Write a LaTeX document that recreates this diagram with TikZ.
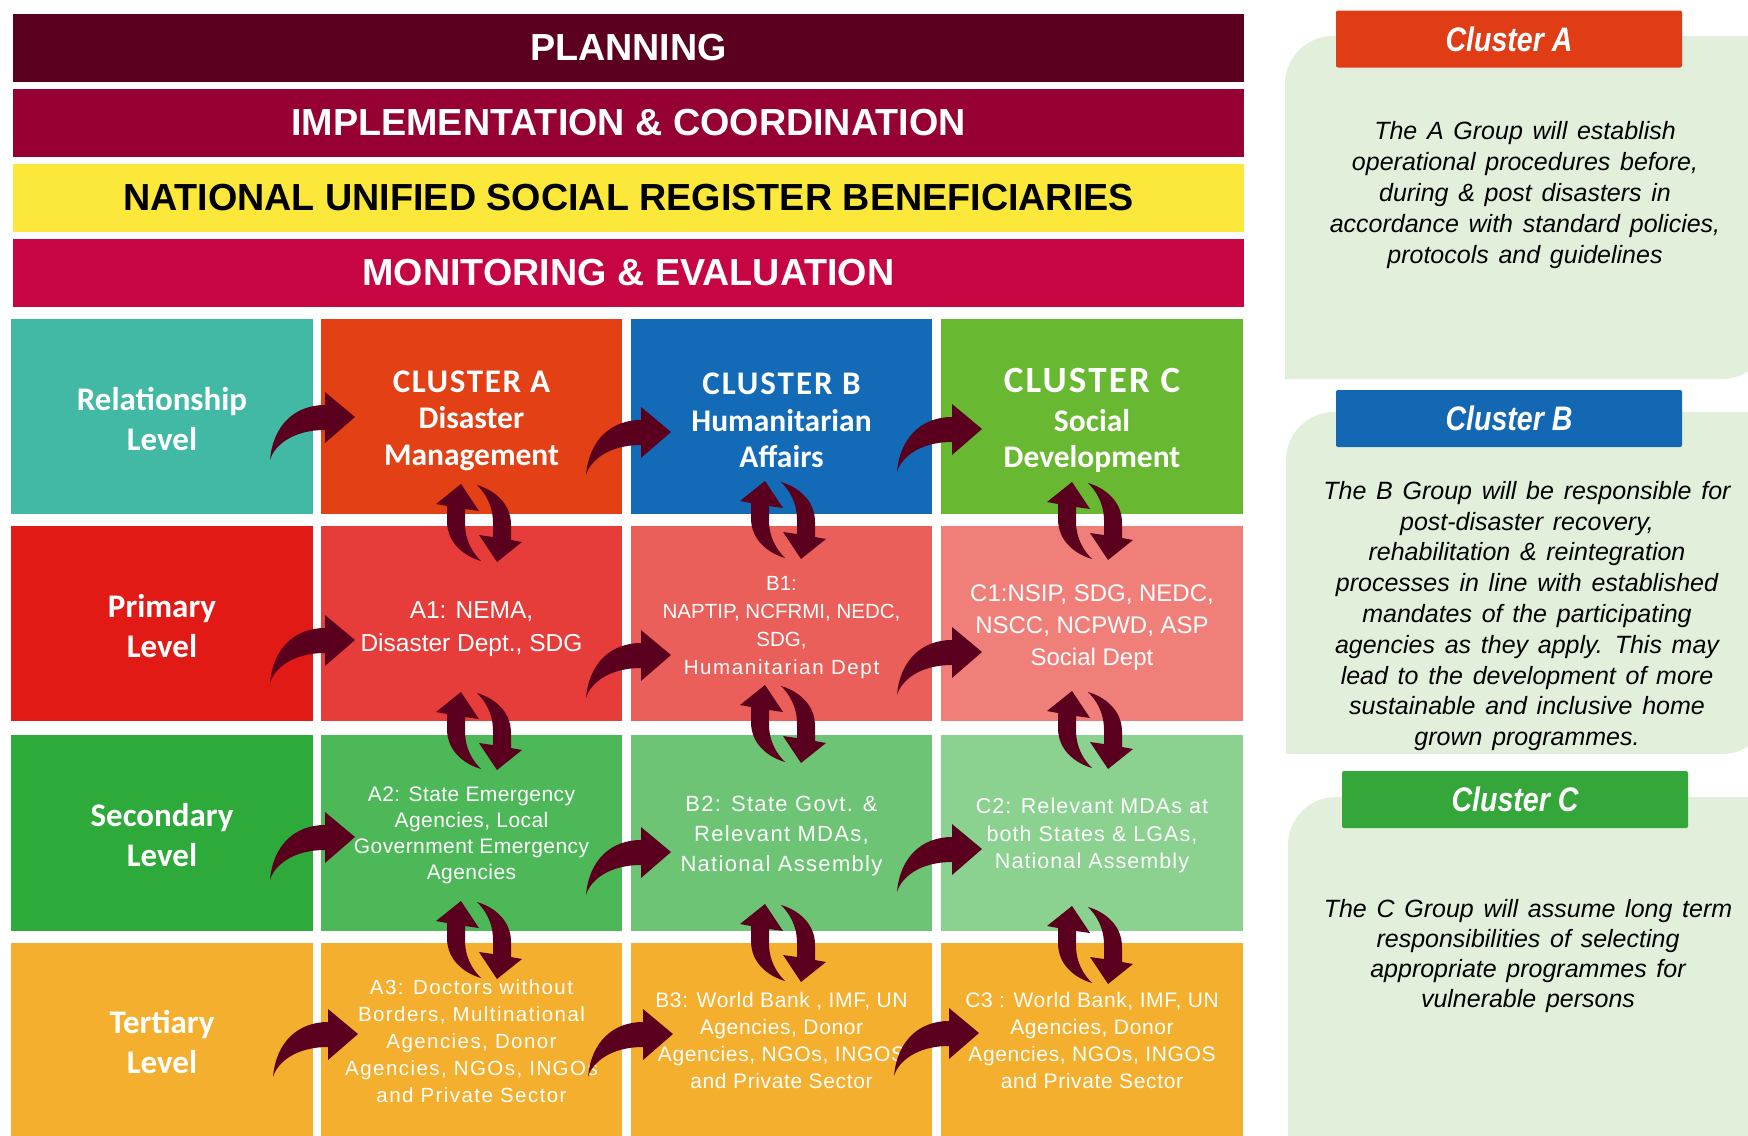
\documentclass[tikz,border=0pt]{standalone}
\usepackage{fontspec}
\setmainfont{Liberation Sans}
\newfontfamily\calib{Carlito}
\newfontfamily\hdrfont[FakeStretch=0.84]{Liberation Sans Bold Italic}
\newfontfamily\panelfont[WordSpace=1.4]{Liberation Sans Italic}
\definecolor{cplan}{HTML}{5C0020}
\definecolor{cimpl}{HTML}{960032}
\definecolor{cnusr}{HTML}{FCE83A}
\definecolor{cmne}{HTML}{C70542}
\definecolor{cteal}{HTML}{41B9A4}
\definecolor{ccla}{HTML}{E34016}
\definecolor{cclb}{HTML}{136BB8}
\definecolor{cclc}{HTML}{68B832}
\definecolor{cprim}{HTML}{E21A16}
\definecolor{ca1}{HTML}{E63C3A}
\definecolor{cb1}{HTML}{EB5F5A}
\definecolor{cc1}{HTML}{F07F7A}
\definecolor{csec}{HTML}{2EAA3B}
\definecolor{ca2}{HTML}{4DB857}
\definecolor{cb2}{HTML}{6CC474}
\definecolor{cc2}{HTML}{8BD18F}
\definecolor{ctert}{HTML}{F4AF2E}
\definecolor{carrow}{HTML}{5A001E}
\definecolor{cpanel}{HTML}{E2EFDA}
\definecolor{cha}{HTML}{E03C16}
\definecolor{chb}{HTML}{1468B3}
\definecolor{chc}{HTML}{34A63A}
\tikzset{
  band/.style={fill=#1, minimum width=1231pt, minimum height=68pt, inner sep=0pt,
    font=\fontsize{37.7}{40}\selectfont\bfseries},
  cell/.style={fill=#1, minimum width=302pt, minimum height=195pt, inner sep=0pt},
  ctext/.style={text=white, align=center, inner sep=0pt},
  lvl/.style={ctext, font=\calib\bfseries\fontsize{33}{40}\selectfont},
  clh/.style={ctext, font=\calib\bfseries\fontsize{31.5}{36.5}\selectfont},
  hdr/.style={fill=#1, rounded corners=2pt, minimum width=346pt, minimum height=57pt,
    inner sep=0pt, text=white, font=\hdrfont\fontsize{34}{38}\selectfont},
  ptext/.style={align=center, inner sep=0pt,
    font=\panelfont\fontsize{25}{#1}\selectfont},
  harrow/.pic={\fill[carrow] (0,0) .. controls (3,-35) and (25,-55) .. (55,-55)
      -- (55,-68) -- (85,-43) -- (55,-17) -- (55,-30)
      .. controls (22,-30) and (4,-14) .. (0,0) -- cycle;},
  uparrow/.pic={\fill[carrow] (2,38) .. controls (-15,33) and (-32,20) .. (-32,-2)
      -- (-32,-17) -- (-43,-19) -- (-18,-39) -- (0,-12) -- (-14,-14)
      -- (-14,0) .. controls (-14,18) and (-6,30) .. (2,38) -- cycle;},
  vpair/.pic={\pic {uparrow}; \pic[rotate=180] {uparrow};}
}
\newcommand{\clt}[2]{{\addfontfeature{LetterSpace=#1}#2}}
\begin{document}
\begin{tikzpicture}[x=1pt,y=-1pt]
\useasboundingbox (0,0) rectangle (1748,1135);
\clip (0,0) rectangle (1748,1135);
% banners
\node[band=cplan, text=white] (plan) at (628.5,48) {PLANNING};
\node[band=cimpl, text=white] (impl) at (628.5,123) {IMPLEMENTATION \& COORDINATION};
\node[band=cnusr, text=black] (nusr) at (628.5,198) {NATIONAL UNIFIED SOCIAL REGISTER BENEFICIARIES};
\node[band=cmne, text=white] (mne) at (628.5,273) {MONITORING \& EVALUATION};
% cells
\node[cell=cteal] (rel) at (162,416.5) {};
\node[cell=ccla, minimum width=301pt] (cla) at (471.5,416.5) {};
\node[cell=cclb, minimum width=301pt] (clb) at (781.5,416.5) {};
\node[cell=cclc] (clc) at (1092,416.5) {};
\node[cell=cprim] (prim) at (162,623.5) {};
\node[cell=ca1, minimum width=301pt] (a1) at (471.5,623.5) {};
\node[cell=cb1, minimum width=301pt] (b1) at (781.5,623.5) {};
\node[cell=cc1] (c1) at (1092,623.5) {};
\node[cell=csec, minimum height=196pt] (sec) at (162,833) {};
\node[cell=ca2, minimum width=301pt, minimum height=196pt] (a2) at (471.5,833) {};
\node[cell=cb2, minimum width=301pt, minimum height=196pt] (b2) at (781.5,833) {};
\node[cell=cc2, minimum height=196pt] (c2) at (1092,833) {};
\node[cell=ctert, minimum height=194pt] (tert) at (162,1040) {};
\node[cell=ctert, minimum width=301pt, minimum height=194pt] (a3) at (471.5,1040) {};
\node[cell=ctert, minimum width=301pt, minimum height=194pt] (b3) at (781.5,1040) {};
\node[cell=ctert, minimum height=194pt] (c3) at (1092,1040) {};
% level labels
\node[lvl] (trel) at ([yshift=-2.5pt]rel.center) {Relationship\\Level};
\node[lvl] (tprim) at ([yshift=-2.5pt]prim.center) {Primary\\Level};
\node[lvl] (tsec) at ([yshift=-2.5pt]sec.center) {Secondary\\Level};
\node[lvl] (ttert) at ([yshift=-2.5pt]tert.center) {Tertiary\\Level};
% cluster headings
\node[clh] (tcla) at ([yshift=-4pt]cla.center) {{\fontsize{33}{36.5}\selectfont\clt{5}{CLUSTER A}}\\Disaster\\Management};
\node[clh] (tclb) at ([yshift=-4pt]clb.center) {{\fontsize{33}{36.5}\selectfont\clt{6}{CLUSTER B}}\\Humanitarian\\Affairs};
\node[clh] (tclc) at ([yshift=-4pt]clc.center) {{\fontsize{37}{38}\selectfont\clt{6}{CLUSTER C}}\\[2pt]Social\\Development};
% agencies
\node[ctext, font=\fontsize{24.5}{33}\selectfont] (ta1) at ([yshift=-5.5pt]a1.center) {A1: NEMA,\\Disaster Dept., SDG};
\node[ctext, font=\fontsize{20.5}{28}\selectfont] (tb1) at ([yshift=-4.5pt]b1.center) {B1:\\NAPTIP, NCFRMI, NEDC,\\SDG,\\\clt{8}{Humanitarian Dept}};
\node[ctext, font=\fontsize{24}{32}\selectfont] (tc1) at ([yshift=-4.5pt]c1.center) {C1:NSIP, SDG, NEDC,\\NSCC, NCPWD, ASP\\Social Dept};
\node[ctext, font=\addfontfeature{LetterSpace=2}\fontsize{21}{26}\selectfont] (ta2) at ([yshift=-2pt]a2.center) {A2: State Emergency\\Agencies, Local\\Government Emergency\\Agencies};
\node[ctext, font=\addfontfeature{LetterSpace=6}\fontsize{22}{30}\selectfont] (tb2) at ([yshift=-3pt]b2.center) {B2: State Govt. \&\\Relevant MDAs,\\National Assembly};
\node[ctext, font=\addfontfeature{LetterSpace=5}\fontsize{21.5}{27.5}\selectfont] (tc2) at ([yshift=-2.5pt]c2.center) {C2: Relevant MDAs at\\both States \& LGAs,\\National Assembly};
\node[ctext, font=\addfontfeature{LetterSpace=7}\fontsize{20.5}{27}\selectfont] (ta3) at ([yshift=-1.5pt]a3.center) {A3: Doctors without\\Borders, Multinational\\Agencies, Donor\\Agencies, NGOs, INGOs\\and Private Sector};
\node[ctext, font=\addfontfeature{LetterSpace=3}\fontsize{21}{27}\selectfont] (tb3) at ([yshift=-0.5pt]b3.center) {B3: World Bank , IMF, UN\\Agencies, Donor\\Agencies, NGOs, INGOS\\and Private Sector};
\node[ctext, font=\addfontfeature{LetterSpace=3}\fontsize{21}{27}\selectfont] (tc3) at ([yshift=-0.5pt]c3.center) {C3 : World Bank, IMF, UN\\Agencies, Donor\\Agencies, NGOs, INGOS\\and Private Sector};
% horizontal arrows
\pic at (270,460) {harrow};
\pic at (586,475) {harrow};
\pic at (897,472) {harrow};
\pic at (270,683) {harrow};
\pic at (586,698) {harrow};
\pic at (897,695) {harrow};
\pic at (270,880) {harrow};
\pic at (586,895) {harrow};
\pic at (897,892) {harrow};
\pic at (273,1077) {harrow};
\pic at (588,1077) {harrow};
\pic at (894,1076) {harrow};
% vertical arrow pairs
\pic at (479,523) {vpair};
\pic at (479,731) {vpair};
\pic at (479,940) {vpair};
\pic at (783,520) {vpair};
\pic at (783,724) {vpair};
\pic at (783,943) {vpair};
\pic at (1090,521) {vpair};
\pic at (1090,730) {vpair};
\pic at (1090,945) {vpair};
% right panels
\fill[cpanel] (1285,379) -- (1285,84) .. controls (1285,57.5) and (1306.5,36) .. (1333,36)
  -- (1770,36) -- (1770,331) .. controls (1770,357.5) and (1748.5,379) .. (1722,379) -- cycle;
\fill[cpanel] (1286,754) -- (1286,460) .. controls (1286,433.5) and (1307.5,412) .. (1334,412)
  -- (1770,412) -- (1770,706) .. controls (1770,732.5) and (1748.5,754) .. (1722,754) -- cycle;
\fill[cpanel] (1288,1140) -- (1288,845) .. controls (1288,818.5) and (1309.5,797) .. (1336,797)
  -- (1770,797) -- (1770,1140) -- cycle;
\node[hdr=cha] (ha) at (1509,39) {Cluster A};
\node[hdr=chb] (hb) at (1509,418.5) {Cluster B};
\node[hdr=chc] (hc) at (1515,799.5) {Cluster C};
\node[ptext=31] (ta) at (1525,195) {The A Group will establish\\operational procedures before,\\during \& post disasters in\\accordance with standard policies,\\protocols and guidelines};
\node[ptext=30.8] (tb) at (1527,616) {The B Group will be responsible for\\post-disaster recovery,\\rehabilitation \& reintegration\\processes in line with established\\mandates of the participating\\agencies as they apply. This may\\lead to the development of more\\sustainable and inclusive home\\grown programmes.};
\node[ptext=30.3] (tc) at (1528,956) {The C Group will assume long term\\responsibilities of selecting\\appropriate programmes for\\vulnerable persons};
\end{tikzpicture}
\end{document}
